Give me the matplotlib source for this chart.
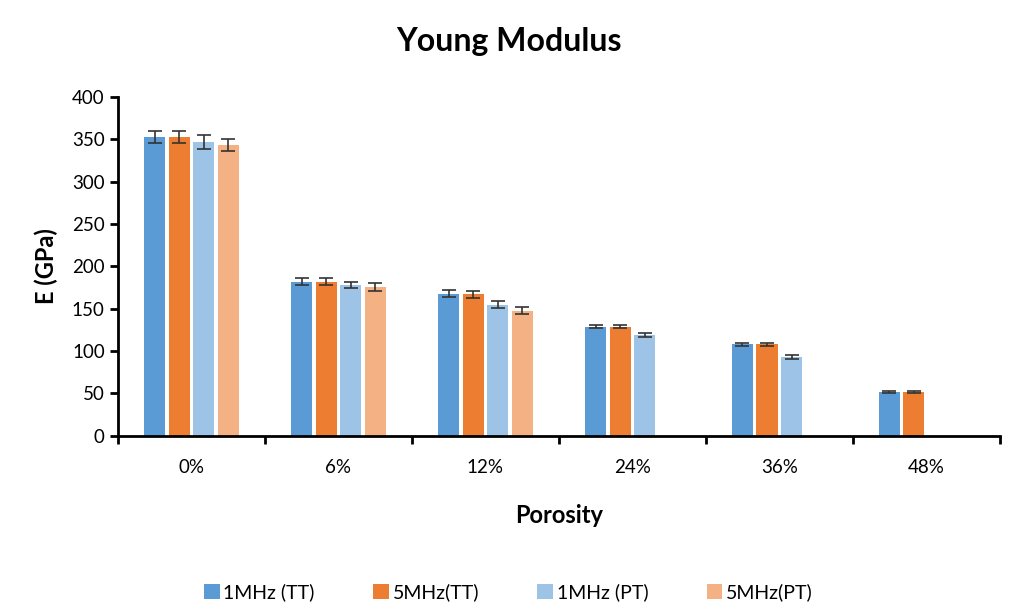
import matplotlib.pyplot as plt
import numpy as np

plt.rcParams['font.family'] = ['Lato', 'DejaVu Sans']

porosity = ['0%', '6%', '12%', '24%', '36%', '48%']
series = ['1MHz (TT)', '5MHz(TT)', '1MHz (PT)', '5MHz(PT)']
colors = ['#5B9BD5', '#ED7D31', '#9DC3E6', '#F4B183']

# nan where no measurement
e_1mhz_tt = [353, 182, 168, 129, 108, 52]
e_5mhz_tt = [353, 182, 167, 129, 108, 52]
e_1mhz_pt = [347, 178, 155, 119, 93, np.nan]
e_5mhz_pt = [343, 176, 148, np.nan, np.nan, np.nan]

err_1mhz_tt = [7, 4, 4, 2, 2, 1]
err_5mhz_tt = [7, 4, 4, 2, 2, 1]
err_1mhz_pt = [8, 4, 4, 2, 2, 0]
err_5mhz_pt = [7, 5, 4, 0, 0, 0]

values = [e_1mhz_tt, e_5mhz_tt, e_1mhz_pt, e_5mhz_pt]
errors = [err_1mhz_tt, err_5mhz_tt, err_1mhz_pt, err_5mhz_pt]

fig = plt.figure(figsize=(10.17, 6.07), dpi=100)
ax = fig.add_axes([0.116, 0.282, 0.867, 0.558])

x = np.arange(len(porosity))
w = 0.143
step = 0.167
for i in range(4):
    pos = x + (i - 1.5) * step
    ax.bar(pos, values[i], width=w, color=colors[i], label=series[i],
           yerr=errors[i], error_kw=dict(ecolor='#333333', elinewidth=1.2, capsize=5, capthick=1.2))

ax.set_xlim(-0.5, 5.5)
ax.set_ylim(0, 400)
ax.set_yticks(range(0, 401, 50))
ax.set_xticks(x)
ax.set_xticklabels(porosity, fontsize=13.5)
ax.set_xticks(np.arange(-0.5, 6, 1), minor=True)
ax.tick_params(axis='x', which='major', length=0, pad=17)
ax.tick_params(axis='x', which='minor', length=6, width=2, direction='out')
ax.tick_params(axis='y', length=6, width=2, direction='out', labelsize=13.5)

for s in ['top', 'right']:
    ax.spines[s].set_visible(False)
for s in ['left', 'bottom']:
    ax.spines[s].set_linewidth(2)

ax.set_xlabel('Porosity', fontsize=17, fontweight='bold', labelpad=20)
ax.set_ylabel('E (GPa)', fontsize=17, fontweight='bold', labelpad=10)
fig.suptitle('Young Modulus', fontsize=23, fontweight='bold', y=0.955)

fig.legend(loc='lower center', bbox_to_anchor=(0.5, -0.02), ncol=4, frameon=False,
           fontsize=14, handlelength=0.8, handleheight=0.8, handletextpad=0.2, columnspacing=3.0)

fig.savefig('out.png', dpi=100)
